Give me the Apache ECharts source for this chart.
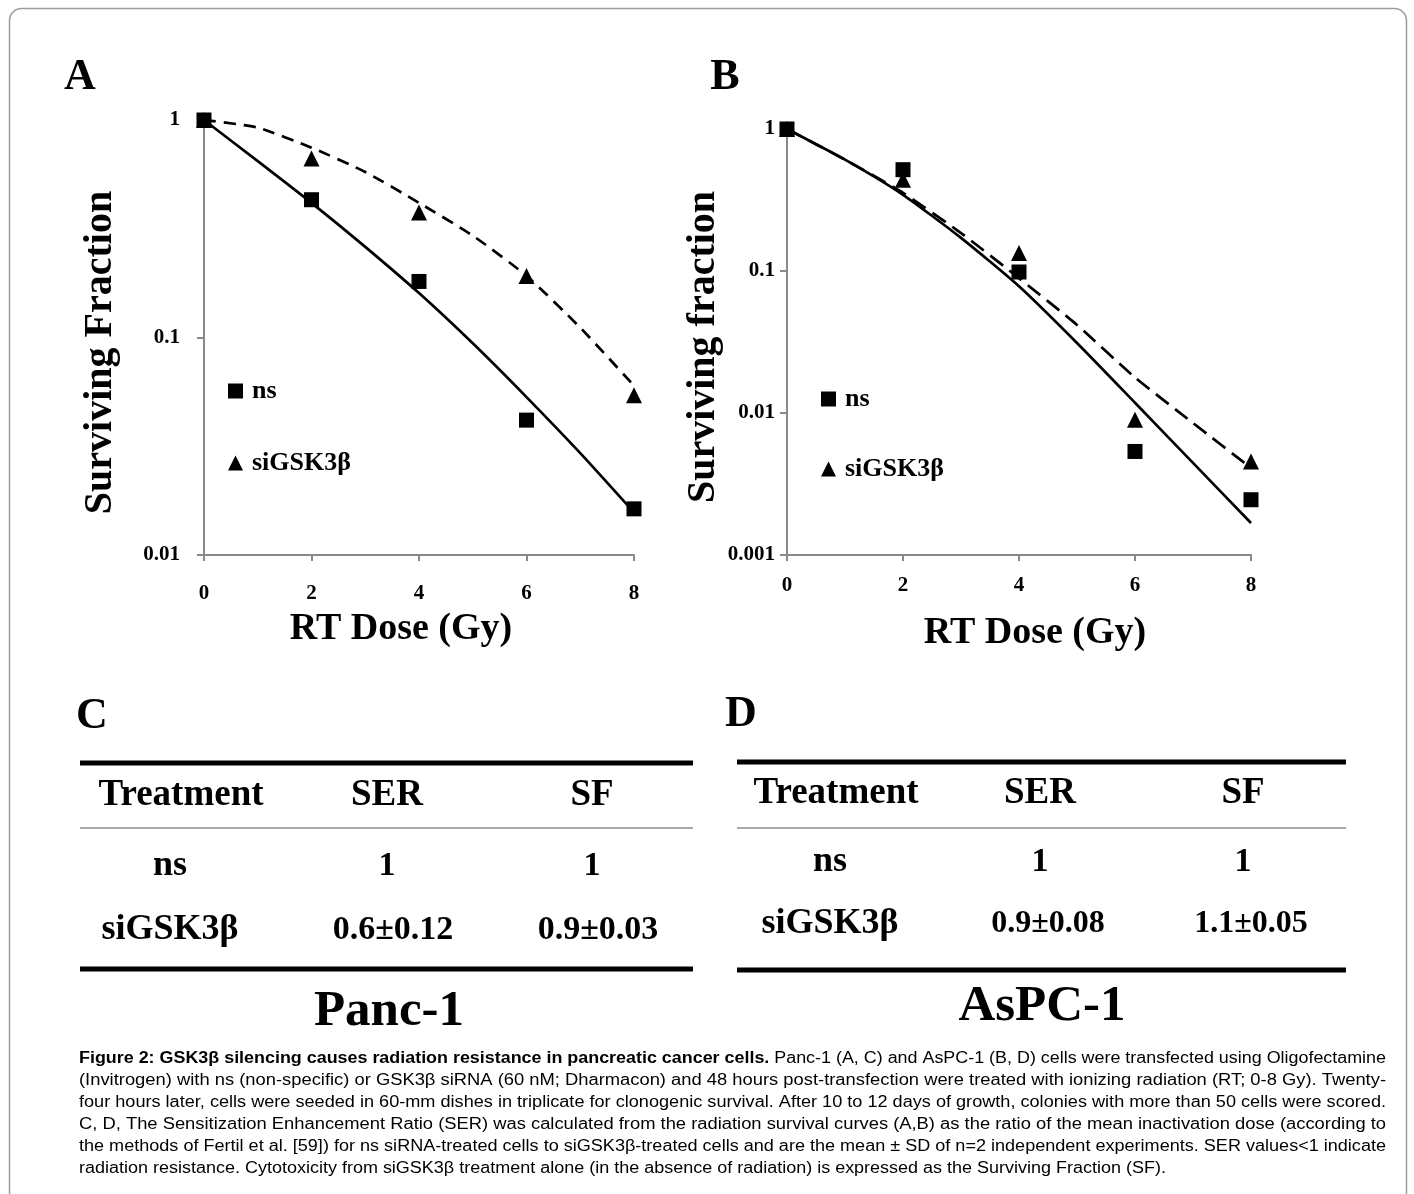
<!DOCTYPE html>
<html>
<head>
<meta charset="utf-8">
<script src="https://cdn.jsdelivr.net/npm/echarts@6/dist/echarts.min.js"></script>
<style>
  html, body { margin: 0; padding: 0; background: #fff; }
  #fig { width: 1414px; height: 1194px; }
</style>
</head>
<body>
<div id="fig"></div>
<script>
// doses where colonies were counted
const doses = [0, 2, 4, 6, 8];
// Panc-1 (A)
const pancNs = [1, 0.43, 0.181, 0.0417, 0.0163];
const pancSi = [1, 0.665, 0.376, 0.192, 0.0543];
// fitted curves at each Gy
const fitDoses = [0, 1, 2, 3, 4, 5, 6, 7, 8];
const pancNsFit = [1, 0.647, 0.416, 0.261, 0.16, 0.094, 0.0532, 0.0294, 0.0157];
const pancSiFit = [1, 0.922, 0.746, 0.577, 0.416, 0.294, 0.192, 0.111, 0.06];
// AsPC-1 (B)
const aspcNs = [1, 0.517, 0.0984, 0.00536, 0.00245];
const aspcSi = [1, 0.44, 0.134, 0.00897, 0.00455];
const aspcNsFit = [1, 0.608, 0.344, 0.171, 0.078, 0.0311, 0.0118, 0.00445, 0.00168];
const aspcSiFit = [1, 0.608, 0.355, 0.185, 0.089, 0.0417, 0.0178, 0.0085, 0.0041];

// tables C and D
const tableHeader = ['Treatment', 'SER', 'SF'];
const tableRows = ['ns', 'siGSK3β'];
const pancSER = ['1', '0.6±0.12'];
const pancSF = ['1', '0.9±0.03'];
const aspcSER = ['1', '0.9±0.08'];
const aspcSF = ['1', '1.1±0.05'];

const captionBold = 'Figure 2: GSK3β silencing causes radiation resistance in pancreatic cancer cells.';
const captionLines = [
  ' Panc-1 (A, C) and AsPC-1 (B, D) cells were transfected using Oligofectamine',
  '(Invitrogen) with ns (non-specific) or GSK3β siRNA (60 nM; Dharmacon) and 48 hours post-transfection were treated with ionizing radiation (RT; 0-8 Gy). Twenty-',
  'four hours later, cells were seeded in 60-mm dishes in triplicate for clonogenic survival. After 10 to 12 days of growth, colonies with more than 50 cells were scored.',
  'C, D, The Sensitization Enhancement Ratio (SER) was calculated from the radiation survival curves (A,B) as the ratio of the mean inactivation dose (according to',
  'the methods of Fertil et al. [59]) for ns siRNA-treated cells to siGSK3β-treated cells and are the mean ± SD of n=2 independent experiments. SER values<1 indicate',
  'radiation resistance. Cytotoxicity from siGSK3β treatment alone (in the absence of radiation) is expressed as the Surviving Fraction (SF).'
];

const serif = '"Liberation Serif", "Times New Roman", serif';
const sans = '"Liberation Sans Narrow", "Liberation Sans", Arial, sans-serif';
const axisGray = '#8a8a8a';

const pairs = (xs, ys) => xs.map((x, i) => [x, ys[i]]);

// shift moves the centred axis title sideways (negative = left)
function xAxisFor(grid, margin, gap, shift) {
  return {
    gridIndex: grid, type: 'value', min: 0, max: 8, interval: 2,
    axisLine: { show: true, lineStyle: { color: axisGray, width: 2 } },
    axisTick: { show: true, length: 6, lineStyle: { color: axisGray, width: 2 } },
    splitLine: { show: false },
    axisLabel: { color: '#000', fontFamily: serif, fontWeight: 'bold', fontSize: 21, margin: margin },
    name: 'RT Dose (Gy)', nameLocation: 'middle', nameGap: gap,
    nameTextStyle: {
      color: '#000', fontFamily: serif, fontWeight: 'bold', fontSize: 38,
      padding: shift < 0 ? [0, -2 * shift, 0, 0] : [0, 0, 0, 2 * shift]
    }
  };
}

// drop moves the rotated title down the axis
function yAxisFor(grid, min, title, margin, gap, drop) {
  return {
    gridIndex: grid, type: 'log', logBase: 10, min: min, max: 1,
    axisLine: { show: true, lineStyle: { color: axisGray, width: 2 } },
    axisTick: { show: true, length: 7, lineStyle: { color: axisGray, width: 2 } },
    minorTick: { show: false },
    splitLine: { show: false },
    axisLabel: { color: '#000', fontFamily: serif, fontWeight: 'bold', fontSize: 21, margin: margin },
    name: title, nameLocation: 'middle', nameRotate: 90, nameGap: gap,
    nameTextStyle: { color: '#000', fontFamily: serif, fontWeight: 'bold', fontSize: 40, padding: [0, 2 * drop, 0, 0] }
  };
}

function points(name, grid, ys, symbol) {
  return {
    name: name, type: 'scatter', xAxisIndex: grid, yAxisIndex: grid,
    symbol: symbol, symbolSize: symbol === 'rect' ? 15 : 16,
    itemStyle: { color: '#000', opacity: 1 }, z: 5,
    data: pairs(doses, ys)
  };
}

function fit(grid, ys, dash) {
  return {
    type: 'line', xAxisIndex: grid, yAxisIndex: grid, smooth: 0.2,
    symbol: 'none', silent: true, z: 3,
    lineStyle: { color: '#000', width: 2.7, type: dash ? dash : 'solid' },
    data: pairs(fitDoses, ys)
  };
}

function legendAt(left, top, gap) {
  return {
    left: left, top: top, orient: 'vertical', itemGap: gap, selectedMode: false,
    itemWidth: 15, itemHeight: 15,
    data: [{ name: 'ns', icon: 'rect' }, { name: 'siGSK3β', icon: 'triangle' }],
    textStyle: { color: '#000', fontFamily: serif, fontWeight: 'bold', fontSize: 26, lineHeight: 26, padding: [0, 0, 0, 4] }
  };
}

function txt(x, y, s, size, extra) {
  return {
    type: 'text', x: x, y: y, silent: true,
    style: Object.assign({
      text: s, fill: '#000', fontFamily: serif, fontWeight: 'bold', fontSize: size,
      align: 'center', verticalAlign: 'middle', textAlign: 'center', textVerticalAlign: 'middle'
    }, extra || {})
  };
}

function hline(x1, x2, y, w, color) {
  return {
    type: 'line', silent: true,
    shape: { x1: x1, y1: y, x2: x2, y2: y },
    style: { stroke: color, lineWidth: w }
  };
}

function table(t) {
  const els = [];
  els.push(hline(t.x1, t.x2, t.top, 5, '#000'));
  els.push(hline(t.x1, t.x2, t.mid, 2, '#a8a8a8'));
  els.push(hline(t.x1, t.x2, t.bottom, 5, '#000'));
  tableHeader.forEach((h, i) => els.push(txt(t.cols[i], t.headY, h, 37)));
  tableRows.forEach((r, j) => {
    els.push(txt(t.rowCol, t.rowY[j], r, 36));
    els.push(txt(t.cols[1] + t.valShift[j], t.rowY[j], t.ser[j], t.valSize[j]));
    els.push(txt(t.cols[2] + t.valShift[j], t.rowY[j], t.sf[j], t.valSize[j]));
  });
  els.push(txt(t.cols[1] + 2, t.nameY, t.name, 51));
  return els;
}

// caption lines are stretched to the column width like justified text;
// the last line keeps its own length
function captionElements() {
  const ctx = document.createElement('canvas').getContext('2d');
  const size = 16, left = 79, right = 1386, lastRight = 1166, top = 1059, lead = 22;
  const measure = (s, bold) => {
    ctx.font = (bold ? 'bold ' : '') + size + 'px ' + sans;
    return ctx.measureText(s).width;
  };
  const target = right - left;
  const scales = [];
  const els = [];
  const bw = measure(captionBold, true);
  const w0 = bw + measure(captionLines[0], false);
  scales.push(target / w0);
  for (let i = 1; i < captionLines.length - 1; i++) scales.push(target / measure(captionLines[i], false));
  scales.push((lastRight - left) / measure(captionLines[captionLines.length - 1], false));
  const base = { fill: '#000', fontFamily: sans, fontSize: size, align: 'left', verticalAlign: 'middle', textAlign: 'left', textVerticalAlign: 'middle' };
  els.push({ type: 'text', x: left, y: top, scaleX: scales[0], silent: true,
    style: Object.assign({}, base, { text: captionBold, fontWeight: 'bold' }) });
  els.push({ type: 'text', x: left + bw * scales[0], y: top, scaleX: scales[0], silent: true,
    style: Object.assign({}, base, { text: captionLines[0] }) });
  for (let i = 1; i < captionLines.length; i++) {
    els.push({ type: 'text', x: left, y: top + lead * i, scaleX: scales[i], silent: true,
      style: Object.assign({}, base, { text: captionLines[i] }) });
  }
  return els;
}

const chart = echarts.init(document.getElementById('fig'), null, { renderer: 'canvas' });

const graphics = [
  { type: 'rect', silent: true, shape: { x: 9.5, y: 8.5, width: 1397, height: 1220, r: 12 },
    style: { fill: 'none', stroke: '#9c9c9c', lineWidth: 1.5 } },
  txt(80, 78, 'A', 44),
  txt(725, 78, 'B', 44),
  txt(92, 717, 'C', 44),
  txt(741, 715, 'D', 44)
].concat(
  table({ x1: 80, x2: 693, top: 763, mid: 828, bottom: 969, headY: 795,
    cols: [181, 387, 592], rowCol: 170, rowY: [866, 930], valShift: [0, 6],
    valSize: [34, 34], ser: pancSER, sf: pancSF, name: 'Panc-1', nameY: 1012 }),
  table({ x1: 737, x2: 1346, top: 762, mid: 828, bottom: 970, headY: 793,
    cols: [836, 1040, 1243], rowCol: 830, rowY: [862, 924], valShift: [0, 8],
    valSize: [34, 32], ser: aspcSER, sf: aspcSF, name: 'AsPC-1', nameY: 1007 }),
  captionElements()
);

chart.setOption({
  animation: false,
  backgroundColor: '#fff',
  grid: [
    { left: 204, top: 120, width: 430, height: 435 },
    { left: 787, top: 129, width: 464, height: 426 }
  ],
  xAxis: [xAxisFor(0, 28, 55, -18), xAxisFor(1, 20, 59, 16)],
  yAxis: [
    yAxisFor(0, 0.01, 'Surviving Fraction', 24, 83, 15),
    yAxisFor(1, 0.001, 'Surviving fraction', 12, 50, 5)
  ],
  legend: [legendAt(223, 373, 46), legendAt(816, 381, 44)],
  series: [
    fit(0, pancNsFit),
    fit(0, pancSiFit, [12, 8]),
    points('ns', 0, pancNs, 'rect'),
    points('siGSK3β', 0, pancSi, 'triangle'),
    fit(1, aspcNsFit),
    fit(1, aspcSiFit, [16, 8]),
    points('ns', 1, aspcNs, 'rect'),
    points('siGSK3β', 1, aspcSi, 'triangle')
  ],
  graphic: graphics
});
</script>
</body>
</html>
